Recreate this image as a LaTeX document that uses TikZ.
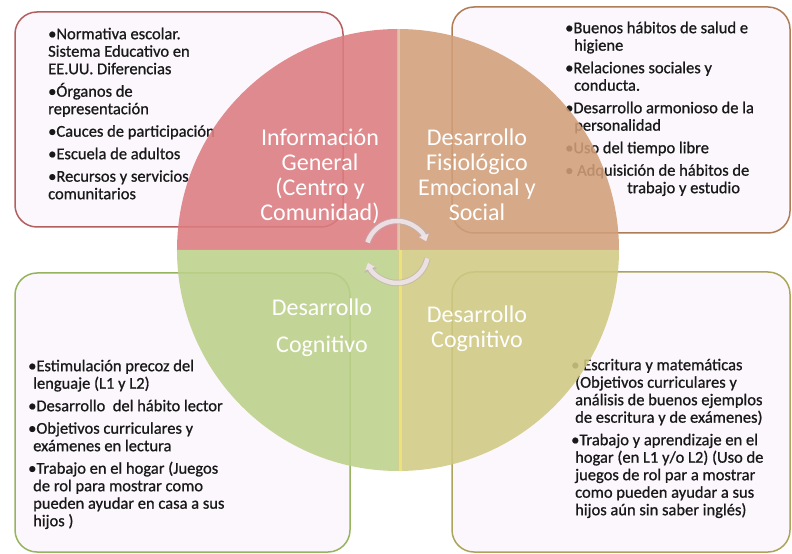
\documentclass[tikz,border=0pt]{standalone}
\usepackage{fontspec}
\setmainfont{Carlito}
\newfontfamily\listfont[FakeBold=0.8]{Carlito}
\usetikzlibrary{arrows.meta}

\definecolor{BoxFill}{RGB}{252,247,252}
\definecolor{ListInk}{RGB}{25,25,25}
\definecolor{InfoRed}{RGB}{220,124,127}
\definecolor{SocialTan}{RGB}{209,159,121}
\definecolor{CogGreen}{RGB}{188,208,138}
\definecolor{CogOlive}{RGB}{208,201,131}
\definecolor{InfoEdge}{RGB}{180,95,95}
\definecolor{SocialEdge}{RGB}{175,125,85}
\definecolor{GreenEdge}{RGB}{150,180,95}
\definecolor{OliveEdge}{RGB}{170,165,90}
\definecolor{TurnArrow}{RGB}{240,230,234}
\definecolor{TurnShade}{RGB}{190,175,182}

\begin{document}
\begin{tikzpicture}[
				x=1bp, y=-1bp,
				% rounded boxes that sit behind the wheel
				listbox/.style={line width=1.5bp, rounded corners=22bp, fill=BoxFill},
				listtext/.style={font=\listfont\fontsize{16.5bp}{17.5bp}\selectfont, align=left, anchor=north west, inner sep=0pt, text=ListInk},
				quadlabel/.style={font=\fontsize{24bp}{25bp}\selectfont, align=center, anchor=north, inner sep=0pt, text=white},
				quadfill/.style={fill opacity=0.88},
				turnshade/.style={line width=6.5bp, draw=TurnShade, opacity=0.6, -{Triangle[width=13bp,length=8.5bp]}},
				turnarrow/.style={line width=4.5bp, draw=TurnArrow, opacity=0.9, -{Triangle[width=10bp,length=6.5bp]}}
				]
				\useasboundingbox (0,0) rectangle (792,554);
				\pgfmathsetmacro{\WheelRadius}{221}
				\pgfmathsetmacro{\TurnRadius}{31}
				\pgfmathsetmacro{\ItemGap}{5}
				% first lines get a fixed height, so a node's top is its first baseline minus that
				\newcommand{\ListTop}{\rule{0pt}{14bp}}
				\newcommand{\TitleTop}{\rule{0pt}{20bp}}
				\coordinate (Hub) at (398,250);
				\coordinate (TurnHub) at (397,252);
				% boxes
				\draw[listbox, draw=InfoEdge] (15,12) rectangle (343,227);
				\draw[listbox, draw=SocialEdge] (452,7) rectangle (790,233);
				\draw[listbox, draw=GreenEdge] (15,273) rectangle (350,552);
				\draw[listbox, draw=OliveEdge] (452,272) rectangle (790,552);
				\node[listtext] (InfoList) at (48,39-14) {%
					\ListTop•Normativa escolar.\\Sistema Educativo en\\EE.UU. Diferencias\\[\ItemGap bp]%
					•Órganos de\\representación\\[\ItemGap bp]%
					•Cauces de participación\\[\ItemGap bp]%
					•Escuela de adultos\\[\ItemGap bp]%
					•Recursos y servicios\\comunitarios};
				\node[listtext] (SocialList) at (565,33-14) {%
					\ListTop•Buenos hábitos de salud e\\\hspace*{9bp}higiene\\[\ItemGap bp]%
					•Relaciones sociales y\\\hspace*{9bp}conducta.\\[\ItemGap bp]%
					•Desarrollo armonioso de la\\\hspace*{9bp}personalidad\\[\ItemGap bp]%
					•Uso del tiempo libre\\[\ItemGap bp]%
					• Adquisición de hábitos de\\\hspace*{62bp}trabajo y estudio};
				\node[listtext] (ReadList) at (28,371-14) {%
					\ListTop•Estimulación precoz del\\\hspace*{5bp}lenguaje (L1 y L2)\\[\ItemGap bp]%
					•Desarrollo~ del hábito lector\\[\ItemGap bp]%
					•Objetivos curriculares y\\\hspace*{5bp}exámenes en lectura\\[\ItemGap bp]%
					•Trabajo en el hogar (Juegos\\\hspace*{5bp}de rol para mostrar como\\\hspace*{5bp}pueden ayudar en casa a sus\\\hspace*{5bp}hijos )};
				\node[listtext] (WriteList) at (571,370-14) {%
					\ListTop• Escritura y matemáticas\\\hspace*{4bp}(Objetivos curriculares y\\\hspace*{4bp}análisis de buenos ejemplos\\\hspace*{4bp}de escritura y de exámenes)\\[\ItemGap bp]%
					•Trabajo y aprendizaje en el\\\hspace*{4bp}hogar (en L1 y/o L2) (Uso de\\\hspace*{4bp}juegos de rol par a mostrar\\\hspace*{4bp}como pueden ayudar a sus\\\hspace*{4bp}hijos aún sin saber inglés)};
				% the wheel, drawn over the boxes
				\fill[quadfill, InfoRed] (Hub) -- ++(-\WheelRadius,0) arc[start angle=180, end angle=270, radius=\WheelRadius] -- cycle;
				\fill[quadfill, SocialTan] (Hub) -- ++(0,-\WheelRadius) arc[start angle=270, end angle=360, radius=\WheelRadius] -- cycle;
				\fill[quadfill, CogOlive] (Hub) -- ++(\WheelRadius,0) arc[start angle=0, end angle=90, radius=\WheelRadius] -- cycle;
				\fill[quadfill, CogGreen] (Hub) -- ++(0,\WheelRadius) arc[start angle=90, end angle=180, radius=\WheelRadius] -- cycle;
				\draw[line width=3bp, white, opacity=0.3] (Hub) -- ++(0,-\WheelRadius);
				\draw[line width=3bp, yellow!60!white, opacity=0.5] ([xshift=2bp]Hub) -- ++(0,\WheelRadius);
				% quadrant titles
				\node[quadlabel] (InfoTitle) at (320,145-20) {\TitleTop Información\\General\\(Centro y\\Comunidad)};
				\node[quadlabel] (SocialTitle) at (477,145-20) {\TitleTop Desarrollo\\Fisiológico\\Emocional y\\Social};
				\node[quadlabel] (ReadTitle) at (322,315-20) {\TitleTop Desarrollo\\[12bp]Cognitivo};
				\node[quadlabel] (WriteTitle) at (477,322-20) {\TitleTop Desarrollo\\Cognitivo};
				% turning arrows in the middle
				\foreach \ArrowLook in {turnshade, turnarrow} {
					\draw[\ArrowLook] (TurnHub) ++(-162:\TurnRadius) arc[start angle=-162, end angle=-20, radius=\TurnRadius];
					\draw[\ArrowLook] (TurnHub) ++(12:\TurnRadius) arc[start angle=12, end angle=160, radius=\TurnRadius];
				}
			\end{tikzpicture}
\end{document}
